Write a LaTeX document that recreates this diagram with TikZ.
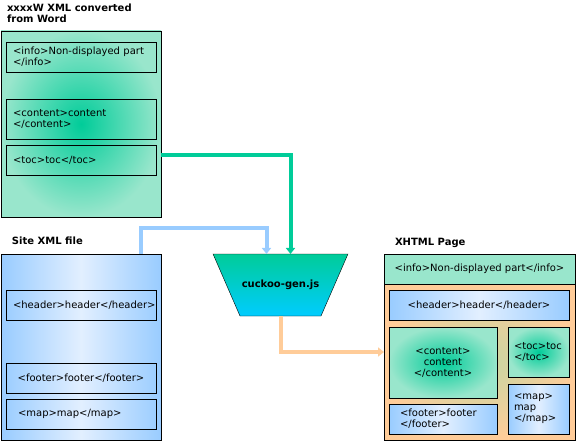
\documentclass[tikz,border=0pt]{standalone}
\usepackage{fontspec}
\setmainfont{DejaVu Sans}
\usetikzlibrary{arrows.meta,positioning,calc,shapes.geometric}

\definecolor{mint}{RGB}{153,230,204}
\definecolor{jade}{RGB}{0,204,153}
\definecolor{skyedge}{RGB}{153,204,255}
\definecolor{skylight}{RGB}{226,239,255}
\definecolor{peach}{RGB}{255,204,153}
\definecolor{peachmid}{RGB}{196,214,162}
\definecolor{aqua}{RGB}{0,204,255}

\begin{document}
\begin{tikzpicture}[x=1pt,y=-1pt,>={Triangle[width=9pt,length=6pt]},
    every node/.style={font=\fontsize{10}{11}\selectfont, outer sep=0pt},
    title/.style={font=\fontsize{10}{11}\selectfont\bfseries, anchor=north west, align=left, inner sep=0pt},
    greenpage/.style={draw, shading=radial, inner color=jade, outer color=mint},
    bluepage/.style={draw, left color=skyedge, right color=skyedge, middle color=skylight},
    tag/.style={draw, align=left, inner xsep=7pt, inner ysep=0pt, minimum height=30pt},
    flow/.style={line width=4pt, ->}]
        \useasboundingbox (0,0) rectangle (576,441);

        % xxxxW XML file
        \node[title] (wtitle) at (7,4) {xxxxW XML converted\\from Word};
        \node[greenpage, minimum width=160pt, minimum height=186pt] (word) at (81,124) {};
        \node[tag, text width=136pt] (winfo) at (81,57) {<info>Non-displayed part\\</info>};
        \node[tag, text width=136pt, minimum height=40pt] (wcontent) [below=27pt of winfo] {<content>content\\</content>};
        \node[tag, text width=136pt] (wtoc) [below=6pt of wcontent] {<toc>toc</toc>};

        % site XML file
        \node[title] (stitle) at (12,237) {Site XML file};
        \node[bluepage, minimum width=160pt, minimum height=186pt] (site) at (81,347) {};
        \node[tag, align=center, text width=136pt] (sheader) at (81,305) {<header>header</header>};
        \node[tag, align=center, text width=136pt] (sfooter) at (81,378) {<footer>footer</footer>};
        \node[tag, inner xsep=12pt, text width=126pt] (smap) [below=6pt of sfooter] {<map>map</map>};

        % generator
        \node[trapezium, trapezium angle=66.5, shape border rotate=180,
              text width=78pt, text height=7.5pt, text depth=2.5pt, align=center,
              inner xsep=1.5pt, inner ysep=26pt, draw, top color=jade, bottom color=aqua,
              font=\fontsize{10}{11}\selectfont\bfseries] (gen) at (280.5,285) {cuckoo-gen.js};

        % XHTML page
        \node[title] (xtitle) at (395,238) {XHTML Page};
        \node[draw, shading=radial, inner color=peachmid, outer color=peach,
              minimum width=191pt, minimum height=156pt] (xbody) at (479.5,362) {};
        \node[draw, fill=mint, minimum width=191pt, minimum height=30pt] (xinfo) [above=0pt of xbody] {<info>Non-displayed part</info>};
        \node[tag, bluepage, align=center, minimum width=180pt] (xheader) at (479,305) {<header>header</header>};
        \node[tag, greenpage, align=center, text width=94pt, minimum height=71pt] (xcontent) at (443,362.5) {<content>\\content\\</content>};
        \node[tag, greenpage, inner xsep=6pt, text width=49pt, minimum height=50pt] (xtoc) at (538.5,352) {<toc>toc\\</toc>};
        \node[tag, bluepage, inner xsep=6pt, text width=49pt, minimum height=50pt] (xmap) [below=7pt of xtoc] {<map>\\map\\</map>};
        \node[tag, bluepage, inner xsep=11pt, text width=86pt] (xfooter) at (443,419) {<footer>footer\\</footer>};

        % connectors
        \draw[flow, jade] ($(word.east)+(0,31)$) -| ($(gen.north)+(10,0)$);
        \draw[flow, skyedge] ($(site.north east)+(-20,0)$) -- ++(0,-26) -| ($(gen.north)+(-14,0)$);
        \draw[flow, peach] (gen.south) |- ($(xbody.west)+(0,-10)$);
\end{tikzpicture}
\end{document}
